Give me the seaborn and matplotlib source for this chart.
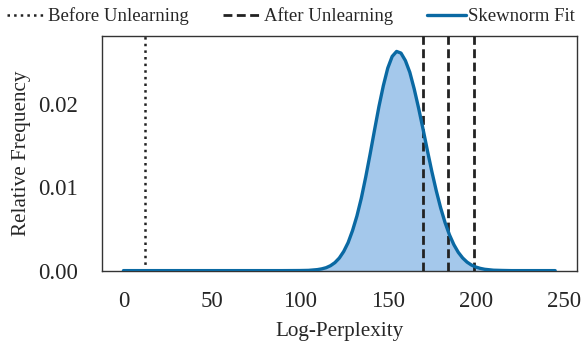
import matplotlib
matplotlib.use("Agg")
import matplotlib.pyplot as plt
import seaborn as sns
import pandas as pd

# Curve (skew-normal fit)
fit_x = [0, 25, 50, 75, 90, 100, 105, 110, 112.5, 115, 117.5, 120, 122.5, 125, 127.5,
         130, 132.5, 135, 137.5, 140, 142.5, 145, 147.5, 150, 152.5, 155, 157.5,
         160, 162.5, 165, 167.5, 170, 172.5, 175, 177.5, 180, 182.5, 185, 187.5,
         190, 192.5, 195, 197.5, 200, 202.5, 205, 210, 215, 220, 230, 245]
fit_y = [0.0, 0.0, 0.0, 0.0, 0.0, 0.00001, 0.00003, 0.00012, 0.00021, 0.00035, 0.00059,
         0.00096, 0.00151, 0.0023, 0.00336, 0.0048, 0.00656, 0.0087, 0.01124, 0.0140,
         0.01688, 0.0197, 0.0222, 0.0243, 0.0257, 0.0263, 0.0261, 0.0252, 0.0238,
         0.0218, 0.0195, 0.0170, 0.0144, 0.0119, 0.0096, 0.00754, 0.00577, 0.0043,
         0.00312, 0.0022, 0.00152, 0.00102, 0.00067, 0.00043, 0.00027, 0.00016,
         0.00005, 0.00002, 0.0, 0.0, 0.0]
before_value = [12]
after_values = [170, 184, 199]
x_ticks = [0, 50, 100, 150, 200, 250]
y_ticks = [0.00, 0.01, 0.02]

sns.set_theme(style="white")
plt.rcParams["font.family"] = ["Liberation Serif", "DejaVu Serif"]
plt.rcParams["mathtext.fontset"] = "stix"

line_color = "#0a69a3"
fill_color = "#a4c8eb"

fig, ax = plt.subplots(figsize=(5.82, 3.43), dpi=100)
fig.subplots_adjust(left=0.175, right=0.991, top=0.895, bottom=0.211)

df = pd.DataFrame({"x": fit_x, "y": fit_y})
ax.fill_between(df["x"], df["y"], color=fill_color, linewidth=0, zorder=1)

h_before = None
for v in before_value:
    h_before = ax.axvline(v, color="#222222", linestyle=":", linewidth=1.8,
                          label="Before Unlearning", zorder=3)
h_after = None
for i, v in enumerate(after_values):
    h = ax.axvline(v, color="#222222", linestyle=(0, (3.2, 1.6)), linewidth=2.0,
                   label="After Unlearning" if i == 0 else None, zorder=3)
    if i == 0:
        h_after = h

sns.lineplot(data=df, x="x", y="y", ax=ax, color=line_color, linewidth=2.4,
             label="Skewnorm Fit", zorder=4, legend=False)
h_fit = ax.get_lines()[-1]

ax.set_xlim(-12.25, 257.25)
ax.set_ylim(0, 0.02815)
ax.set_xticks(x_ticks)
ax.set_xticklabels([str(t) for t in x_ticks])
ax.set_yticks(y_ticks)
ax.set_yticklabels(["0.00", "0.01", "0.02"])
ax.tick_params(axis="both", labelsize=16.5, length=0)
ax.tick_params(axis="x", pad=15)
ax.tick_params(axis="y", pad=17)
ax.set_xlabel("Log-Perplexity", fontsize=15.2, labelpad=7)
ax.set_ylabel("Relative Frequency", fontsize=15.2, labelpad=5)
for s in ax.spines.values():
    s.set_color("#333333")
    s.set_linewidth(1.0)

fig.legend([h_before, h_after, h_fit], ["Before Unlearning", "After Unlearning", "Skewnorm Fit"],
           loc="upper center", bbox_to_anchor=(0.5, 1.028), ncol=3, frameon=False,
           fontsize=13.5, handlelength=2.1, handletextpad=0.1, columnspacing=1.8)

fig.savefig("out.png", dpi=100)
